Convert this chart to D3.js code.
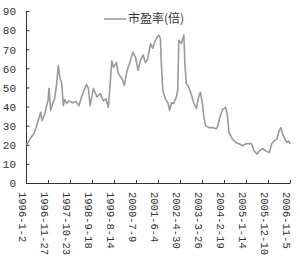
<!DOCTYPE html>
<html>
<head>
<meta charset="utf-8">
<script src="https://cdn.jsdelivr.net/npm/d3@7"></script>
<style>
  body { margin: 0; background: #fff; }
  text { font-family: "Liberation Mono", monospace; fill: #333; }
</style>
</head>
<body>
<div id="chart"></div>
<script>
var width = 300, height = 257;

// data
const dates = [
  "1996-01-10","1996-02-15","1996-03-15","1996-05-01","1996-06-10","1996-07-12","1996-08-10","1996-08-28",
  "1996-10-10","1996-11-06","1996-11-27","1996-12-12","1997-01-06","1997-02-06","1997-03-06","1997-04-06",
  "1997-05-01","1997-05-25","1997-06-21","1997-07-15","1997-08-06","1997-09-03","1997-10-10","1997-11-27",
  "1998-01-18","1998-03-06","1998-04-12","1998-05-21","1998-06-27","1998-07-25","1998-08-21","1998-09-24",
  "1998-10-09","1998-12-01","1999-01-18","1999-03-09","1999-04-18","1999-05-21","1999-06-18","1999-07-12",
  "1999-08-06","1999-09-18","1999-10-21","1999-12-12","2000-01-15","2000-02-27","2000-04-15","2000-05-24",
  "2000-07-01","2000-08-09","2000-09-12","2000-10-24","2000-11-27","2001-01-01","2001-02-12","2001-03-15",
  "2001-04-27","2001-06-15","2001-07-09","2001-07-24","2001-08-15","2001-09-24","2001-11-03","2001-11-24",
  "2001-12-24","2002-01-27","2002-03-03","2002-03-27","2002-04-12","2002-05-21","2002-06-27","2002-07-12",
  "2002-08-03","2002-09-09","2002-10-21","2002-11-24","2003-01-01","2003-02-01","2003-03-03","2003-04-01",
  "2003-04-24","2003-05-18","2003-07-06","2003-08-27","2003-10-18","2003-11-12","2003-12-15","2004-01-27",
  "2004-03-15","2004-04-12","2004-05-03","2004-06-24","2004-08-15","2004-10-03","2004-11-24","2005-01-12",
  "2005-03-01","2005-04-06","2005-05-15","2005-06-27","2005-08-01","2005-09-21","2005-11-09","2006-01-01",
  "2006-02-03","2006-03-12","2006-04-24","2006-05-27","2006-06-21","2006-07-18","2006-08-21","2006-09-21",
  "2006-10-15","2006-11-05"
];
const peRatio = [
  20, 22, 23.7, 26, 30, 33.7, 37, 32.6,
  36, 40.5, 43, 49.5, 38, 41.6, 44, 52,
  61.5, 55, 52, 40.5, 43.7, 41.6, 43, 42,
  42.6, 40.5, 44.7, 48.4, 51.6, 49.5, 40.5, 46.8,
  49.5, 45, 46.8, 43, 44, 39.5, 52, 64,
  60.5, 63, 57, 54.7, 51, 59, 64, 68.4,
  65.8, 59, 64, 67, 63, 65, 73, 70.5,
  74.7, 77.4, 75.8, 62.6, 48.4, 44, 41.6, 38,
  42, 41.6, 44.7, 48.4, 74.7, 73, 77.4, 62.6,
  52, 50, 45.8, 41.6, 39, 44.7, 47.4, 41.6,
  34.2, 30, 29, 29, 28.4, 29, 34, 38.4,
  39.6, 35, 26.5, 23, 21.2, 20.5, 19.5, 20.5,
  20.7, 20.5, 16.8, 15.2, 16.8, 17.9, 16.8, 16,
  20.5, 22, 23, 27.4, 29, 25.6, 23, 21.2,
  22, 20.5
];
const tickDates = ["1996-01-02","1996-11-27","1997-10-23","1998-09-18","1999-08-14","2000-07-09",
  "2001-06-04","2002-04-30","2003-03-26","2004-02-19","2005-01-14","2005-12-10","2006-11-05"];
const tickLabels = ["1996-1-2","1996-11-27","1997-10-23","1998-9-18","1999-8-14","2000-7-9",
  "2001-6-4","2002-4-30","2003-3-26","2004-2-19","2005-1-14","2005-12-10","2006-11-5"];
const yTicks = [0, 10, 20, 30, 40, 50, 60, 70, 80, 90];
const seriesName = "市盈率(倍)";

const parse = d3.timeParse("%Y-%m-%d");
const data = dates.map((d, i) => ({ date: parse(d), v: peRatio[i] }));

const svg = d3.select("#chart").append("svg")
  .attr("width", width)
  .attr("height", height);

const x = d3.scaleTime()
  .domain([parse(tickDates[0]), parse(tickDates[tickDates.length - 1])])
  .range([26, 290]);
const y = d3.scaleLinear().domain([0, 90]).range([183, 11]);

// y axis
const yAxis = svg.append("g")
  .attr("transform", "translate(26,0)")
  .call(d3.axisRight(y).tickValues(yTicks).tickSize(3).tickFormat(d3.format("d")));
yAxis.select(".domain").attr("d", "M0.5," + y(90) + "V" + (y(0) + 0.5));
yAxis.selectAll("line").attr("x1", 0.5).attr("x2", 3.5).attr("stroke", "#333");
yAxis.selectAll("text")
  .attr("x", -10).attr("dy", "0.35em")
  .attr("text-anchor", "end")
  .style("font-size", "11px");

// x axis
const xAxis = svg.append("g")
  .attr("transform", "translate(0,183)")
  .call(d3.axisTop(x).tickValues(tickDates.map(parse)).tickSize(3)
    .tickFormat((d, i) => tickLabels[i]));
xAxis.select(".domain").attr("d", "M26,0.5H290.5");
xAxis.selectAll("text")
  .attr("y", 0).attr("dy", 0)
  .attr("text-anchor", "start")
  .attr("transform", "translate(-8,9) rotate(90)")
  .style("font-size", "10.5px");
svg.selectAll(".domain").attr("stroke", "#333");
svg.selectAll(".tick line").attr("stroke", "#333");

// series
svg.append("path")
  .datum(data)
  .attr("fill", "none")
  .attr("stroke", "#9a9a9a")
  .attr("stroke-width", 1.6)
  .attr("stroke-linejoin", "round")
  .attr("d", d3.line().x(d => x(d.date)).y(d => y(d.v)));

// legend
svg.append("line")
  .attr("x1", 104).attr("x2", 126)
  .attr("y1", 19).attr("y2", 19)
  .attr("stroke", "#9a9a9a").attr("stroke-width", 1.6);
svg.append("text")
  .attr("x", 128).attr("y", 19).attr("dy", "0.35em")
  .style("font-family", "'Noto Sans CJK SC', sans-serif")
  .style("font-size", "12px")
  .text(seriesName);
</script>
</body>
</html>
